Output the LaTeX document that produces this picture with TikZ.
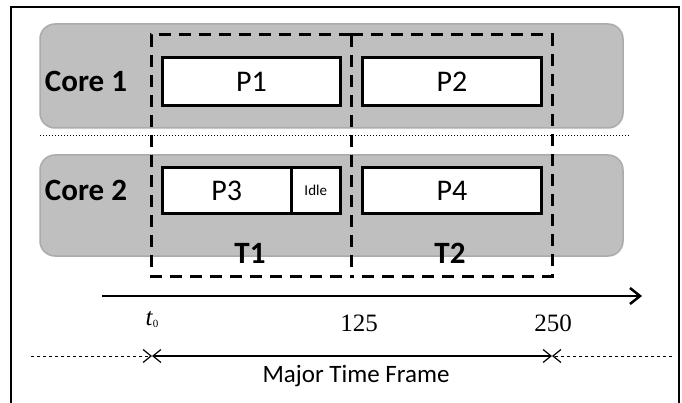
\documentclass[tikz,border=0pt]{standalone}
\usepackage{fontspec}
\setmainfont{Carlito}
\newfontfamily\timesf{Liberation Serif}
\usetikzlibrary{arrows.meta}
\begin{document}
\begin{tikzpicture}[x=1pt,y=-1pt,
  corebox/.style={draw=black!33, line width=1.5pt, fill=black!25, rounded corners=15pt, inner sep=0pt},
  procbox/.style={draw=black, line width=3pt, fill=white, inner sep=0pt, font=\fontsize{30}{30}\selectfont},
  slotline/.style={draw=black, line width=3pt, dash pattern=on 12pt off 8pt},
  corelbl/.style={font=\bfseries\fontsize{31}{31}\selectfont, inner sep=0pt},
  tlbl/.style={font=\bfseries\fontsize{31}{31}\selectfont, inner sep=0pt},
  numlbl/.style={font=\timesf\fontsize{25}{25}\selectfont, inner sep=0pt},
  axisline/.style={line width=2.5pt, -{Straight Barb[length=10pt,width=16pt,line width=2.5pt]}},
  mybarb/.tip={Straight Barb[length=8pt,width=13pt,line width=1.2pt]},
]
\useasboundingbox (0,0) rectangle (682,403);
% outer frame
\draw[line width=2pt] (11,403) -- (11,7) -- (679,7) -- (679,403);
% core rows
\node[corebox, minimum width=583pt, minimum height=104pt] (core1) at (331.5,76) {};
\node[corebox, minimum width=583pt, minimum height=101pt] (core2) at (331.5,205.5) {};
% separator
\coordinate (sepl) at (40,136);
\coordinate (sepr) at (630,136);
\draw[line width=1pt, dotted] (sepl) -- (sepr);
% process boxes
\node[procbox, minimum width=178pt, minimum height=48pt] (p1) at (251.5,81.5) {P1};
\node[procbox, minimum width=179pt, minimum height=48pt] (p2) at (452,81.5) {P2};
\node[procbox, minimum width=128.5pt, minimum height=46pt] (p3) at (226.75,190.5) {P3};
\node[procbox, minimum width=49.5pt, minimum height=46pt, font=\fontsize{15}{15}\selectfont] (idle) at (315.75,190.5) {Idle};
\node[procbox, minimum width=179pt, minimum height=46pt] (p4) at (452,190.5) {P4};
% core labels
\node[corelbl] (c1) at (86,81) {Core 1};
\node[corelbl] (c2) at (86,190) {Core 2};
% time slots
\coordinate (s0t) at (151,35);
\coordinate (s0b) at (151,276);
\coordinate (s1t) at (351,35);
\coordinate (s1b) at (351,276);
\coordinate (s2t) at (552,35);
\coordinate (s2b) at (552,276);
\draw[slotline] (s1t) -- (s0t) -- (s0b) -- (s1b);
\draw[slotline] (s1t) -- (s2t) -- (s2b) -- (s1b);
\draw[slotline] (s1t) -- (s1b);
\node[tlbl] (t1) at (250,253) {T1};
\node[tlbl] (t2) at (450,253) {T2};
% time axis
\coordinate (ax0) at (102,296);
\coordinate (ax1) at (642,296);
\draw[axisline] (ax0) -- (ax1);
\node[numlbl] (n0) at (152,320) {\textit{t}\raisebox{-2pt}{\fontsize{11}{11}\selectfont 0}};
\node[numlbl] (n125) at (359,323) {125};
\node[numlbl] (n250) at (553,323) {250};
% major time frame
\coordinate (ml) at (31,356);
\coordinate (m0) at (152,356);
\coordinate (m1) at (552,356);
\coordinate (mr) at (672,356);
\draw[line width=1pt, dashed, -{mybarb}] (ml) -- (m0);
\draw[line width=1.2pt, {mybarb}-{mybarb}] (m0) -- (m1);
\draw[line width=1pt, dashed, -{mybarb}] (mr) -- (m1);
\node[font=\fontsize{25}{25}\selectfont, inner sep=0pt] (mtf) at (356,376) {Major Time Frame};
\end{tikzpicture}
\end{document}
